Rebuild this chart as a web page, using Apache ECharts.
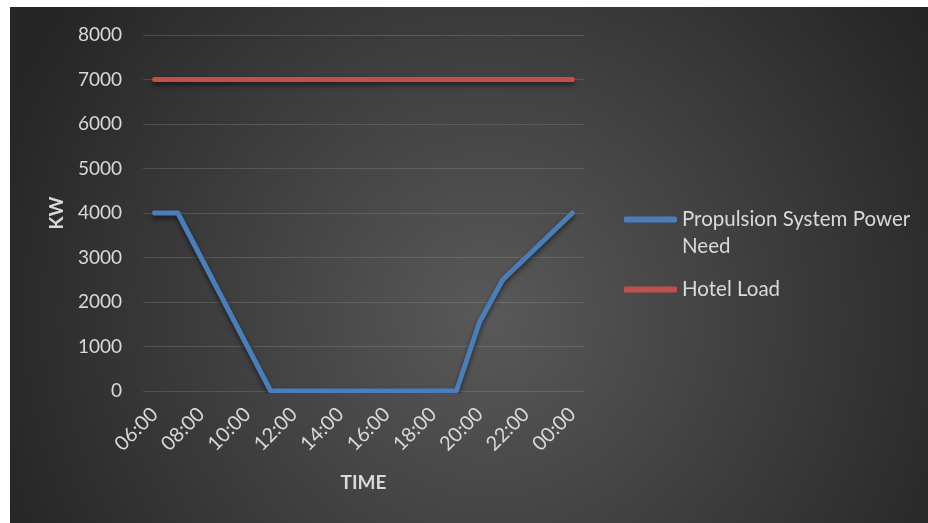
<!DOCTYPE html>
<html>
<head>
<meta charset="UTF-8">
<title>Power demand</title>
<script src="https://cdn.jsdelivr.net/npm/echarts@6/dist/echarts.min.js"></script>
<style>
  html, body { margin: 0; padding: 0; background: #ffffff; }
  #main { position: absolute; left: 10px; top: 7px; width: 918px; height: 516px; }
</style>
</head>
<body>
<div id="main"></div>
<script type="text/javascript">
  // hourly points, labels every 2 hours
  var times = ['06:00', '07:00', '08:00', '09:00', '10:00', '11:00', '12:00', '13:00', '14:00', '15:00',
               '16:00', '17:00', '18:00', '19:00', '20:00', '21:00', '22:00', '23:00', '00:00'];
  var propulsion = [4000, 4000, 3000, 2000, 1000, 0, 0, 0, 0, 0, 0, 0, 0, 0, 1550, 2500, 3000, 3500, 4000];
  var hotelLoad = [7000, 7000, 7000, 7000, 7000, 7000, 7000, 7000, 7000, 7000, 7000, 7000, 7000, 7000, 7000, 7000, 7000, 7000, 7000];
  var names = ['Propulsion System Power Need', 'Hotel Load'];

  var font = 'Lato';
  var txt = '#d9d9d9';
  var shadow = {shadowColor: 'rgba(0,0,0,0.55)', shadowBlur: 5, shadowOffsetY: 3};

  var myChart = echarts.init(document.getElementById('main'));
  var option = {
    backgroundColor: {
      type: 'radial', x: 0.52, y: 0.6, r: 1.0,
      colorStops: [{offset: 0, color: '#595959'}, {offset: 1, color: '#262626'}]
    },
    color: ['#4a7ebb', '#c0504d'],
    textStyle: {fontFamily: font},
    grid: {left: 133, top: 28, width: 441, height: 356, containLabel: false},
    legend: {
      orient: 'vertical',
      left: 614,
      top: 172,
      padding: 0,
      itemGap: 16,
      itemWidth: 53,
      itemHeight: 6,
      icon: 'roundRect',
      textStyle: {color: txt, fontSize: 20.5, fontFamily: font, lineHeight: 27},
      // blank first line keeps the icon level with the first text line
      formatter: function (name) {
        return name === names[0] ? ' \nPropulsion System Power\nNeed' : name;
      },
      data: names
    },
    xAxis: {
      type: 'category',
      data: times,
      boundaryGap: true,
      name: 'TIME',
      nameLocation: 'middle',
      nameGap: 82,
      nameTextStyle: {color: txt, fontSize: 19, fontWeight: 'bold', fontFamily: font},
      axisLine: {show: false},
      axisTick: {show: false},
      axisLabel: {color: txt, fontSize: 20, rotate: 45, interval: 1, margin: 20, fontFamily: font}
    },
    yAxis: {
      type: 'value',
      min: 0,
      max: 8000,
      interval: 1000,
      name: 'KW',
      nameLocation: 'middle',
      nameRotate: 90,
      nameGap: 77,
      nameTextStyle: {color: txt, fontSize: 19, fontWeight: 'bold', fontFamily: font},
      axisLine: {show: false},
      axisTick: {show: false},
      axisLabel: {color: txt, fontSize: 19, margin: 21, fontFamily: font,
                  formatter: function (v) { return String(v); }},
      splitLine: {lineStyle: {color: 'rgba(255,255,255,0.13)', width: 1}}
    },
    series: [
      {
        name: names[0], type: 'line', data: propulsion,
        symbol: 'none', lineStyle: Object.assign({width: 5, cap: 'round', join: 'round'}, shadow)
      },
      {
        name: names[1], type: 'line', data: hotelLoad,
        symbol: 'none', lineStyle: Object.assign({width: 5, cap: 'round', join: 'round'}, shadow)
      }
    ]
  };
  myChart.setOption(option);
</script>
</body>
</html>
